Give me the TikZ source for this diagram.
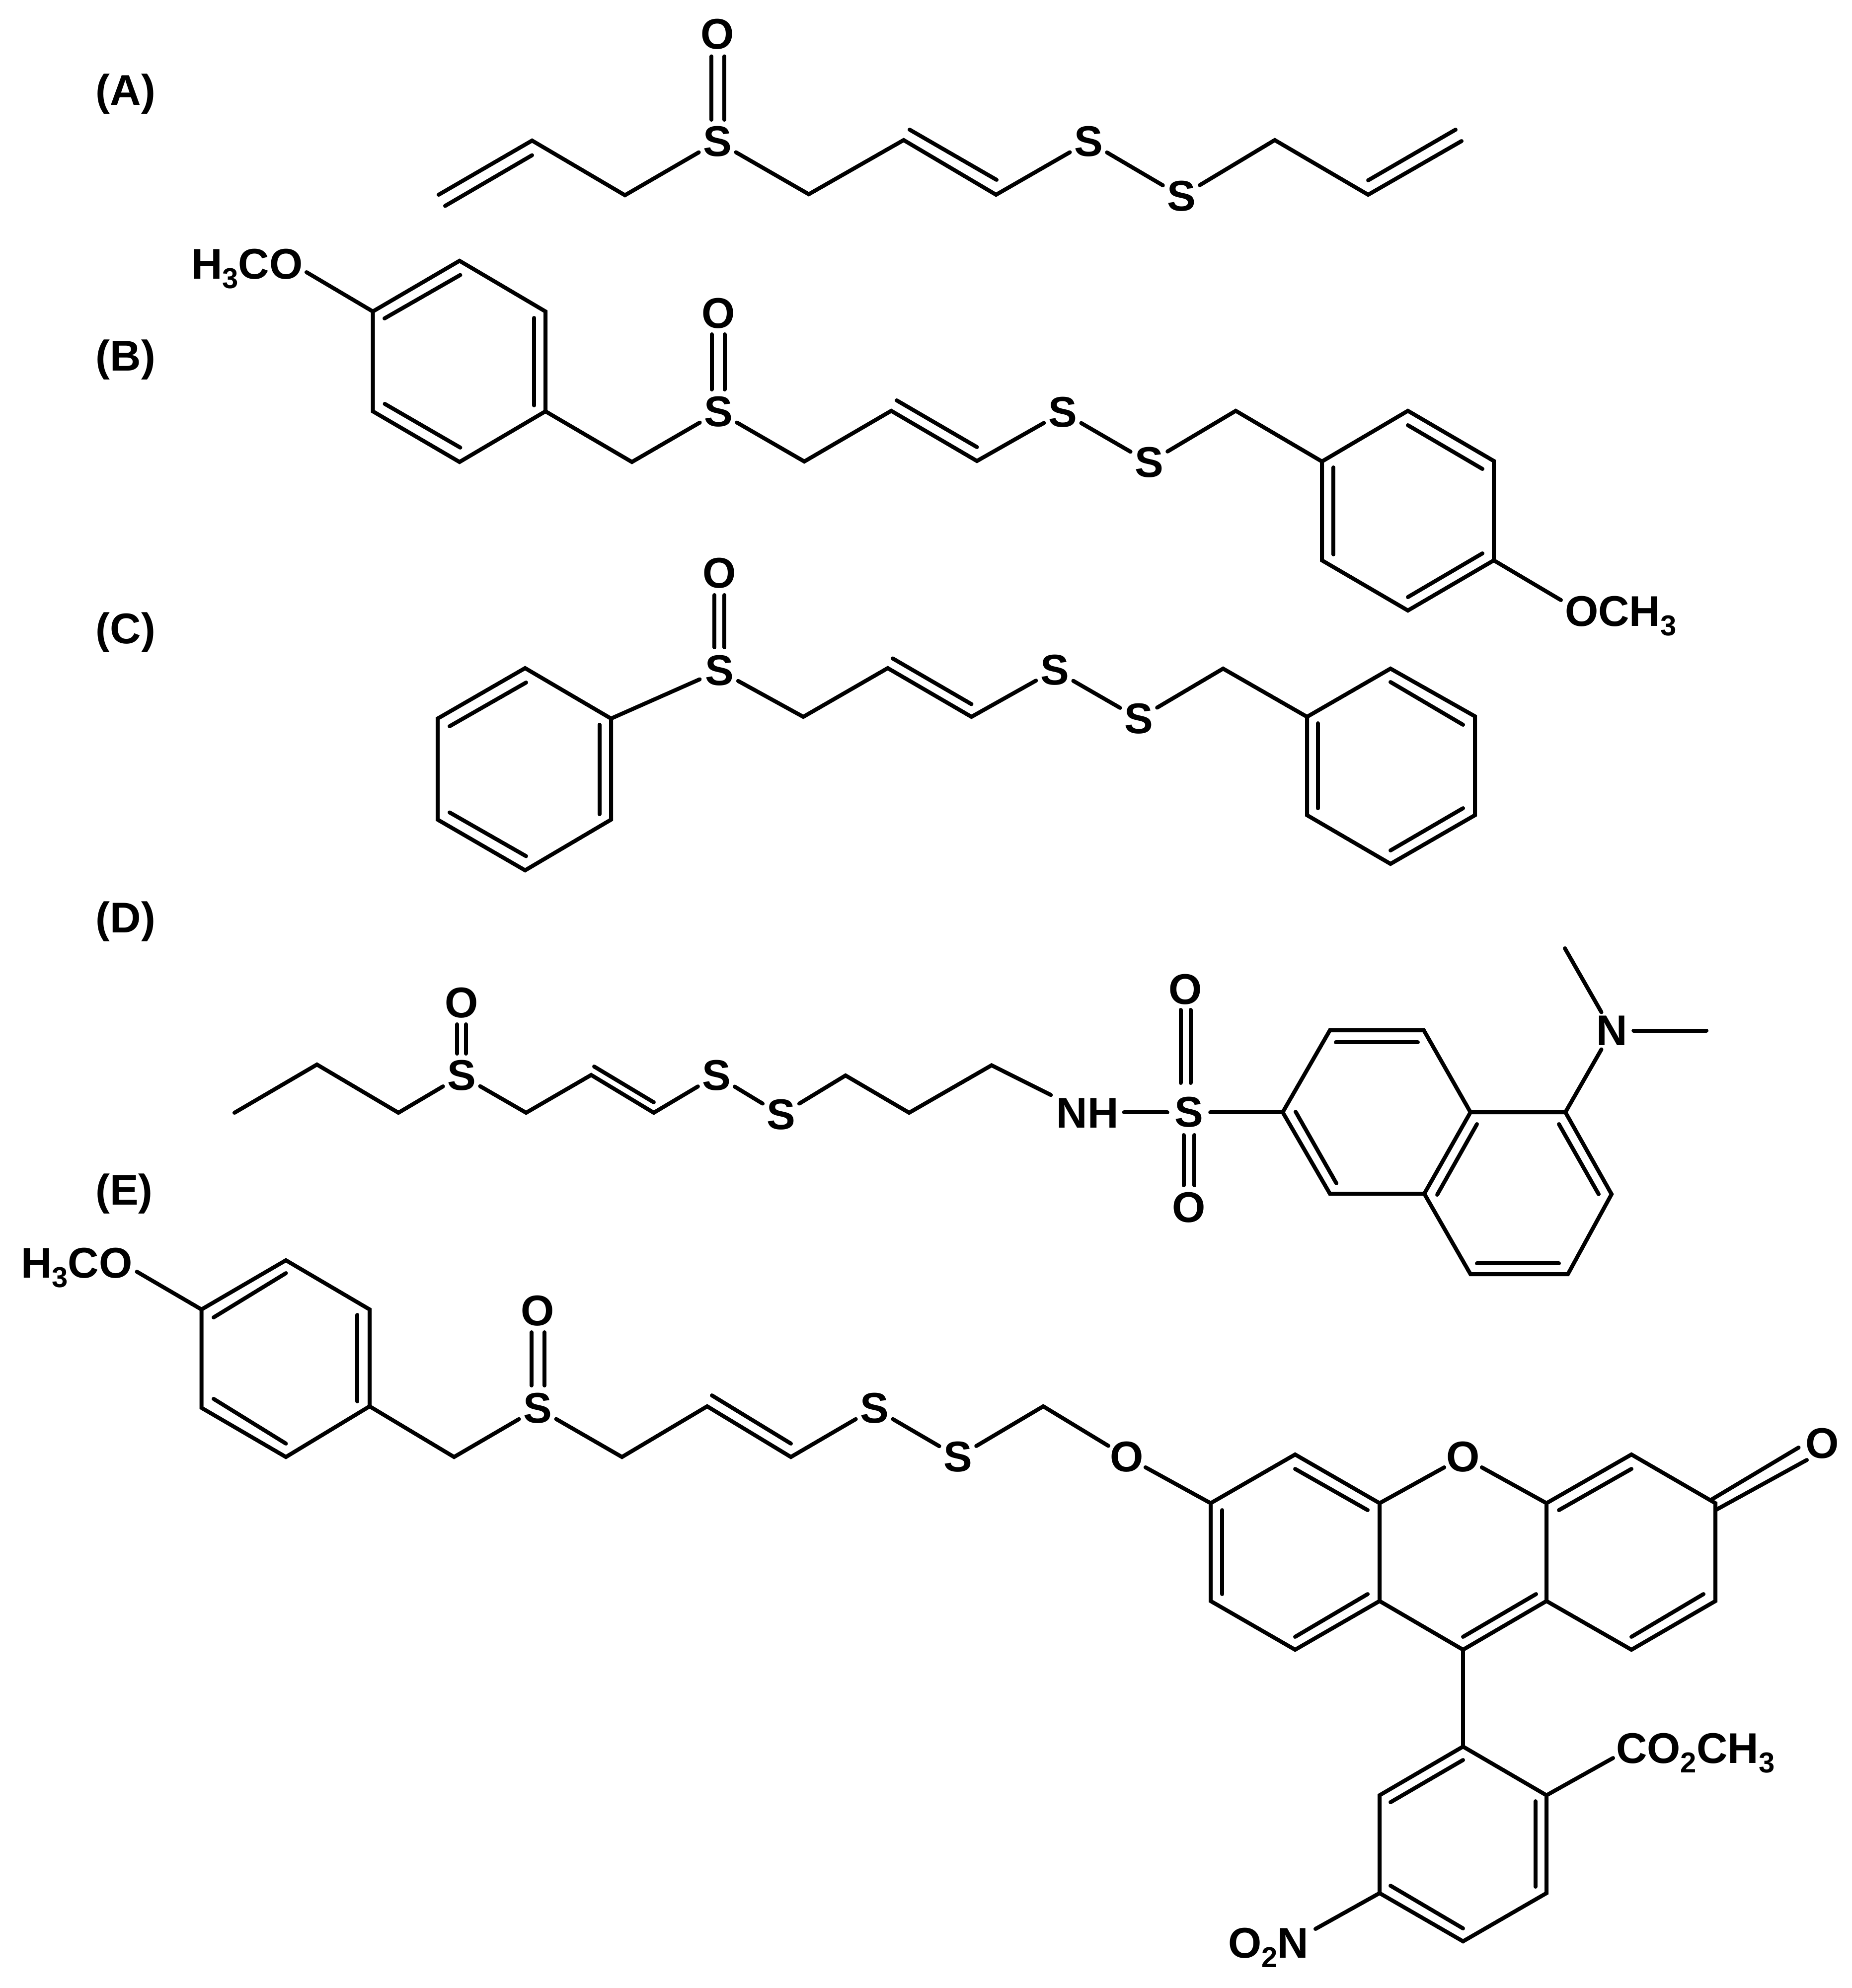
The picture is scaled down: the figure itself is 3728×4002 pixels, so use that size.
\documentclass[tikz,border=0pt]{standalone}
\usepackage{fontspec}
\setmainfont{Liberation Sans}
\newcommand{\sbs}[1]{\raisebox{-19pt}{\fontsize{58}{58}\selectfont #1}}
\tikzset{
  bond/.style={line width=8pt,line cap=round,line join=miter,black},
  atom/.style={circle,inner sep=-2pt,minimum size=86pt,font=\fontsize{86.5}{90}\selectfont\bfseries},
  grp/.style={inner sep=0pt,font=\fontsize{86.5}{90}\selectfont\bfseries},
  tag/.style={inner sep=0pt,font=\fontsize{86.5}{90}\selectfont\bfseries}
}
\newcommand{\il}[3]{\coordinate (#1s) at (#2); \coordinate (#1e) at (#3); \draw[bond] (#1s) -- (#1e);}
\begin{document}
\begin{tikzpicture}[x=1pt,y=-1pt]
\fill[white] (0,0) rectangle (3728,4002);
\useasboundingbox (0,0) rectangle (3728,4002);
% tags
\node[tag] (tA) at (253,189) {(A)};
\node[tag] (tB) at (253,724) {(B)};
\node[tag] (tC) at (253,1273) {(C)};
\node[tag] (tD) at (253,1855) {(D)};
\node[tag] (tE) at (250,2403) {(E)};
% ---- A
\node[atom] (aO) at (1444,69) {O};
\node[atom] (aS1) at (1444,285) {S};
\node[atom] (aS2) at (2191,285) {S};
\node[atom] (aS3) at (2378,395) {S};
\coordinate (a1) at (883,392);
\coordinate (a2) at (1071,283);
\coordinate (a3) at (1258,393);
\coordinate (a4) at (1628,391);
\coordinate (a5) at (1819,282);
\coordinate (a6) at (2005,392);
\coordinate (a7) at (2566,282);
\coordinate (a8) at (2754,392);
\coordinate (a9) at (2942,284);
\draw[bond] (a1) -- (a2) -- (a3) -- (aS1);
\draw[bond] (aS1) -- (a4) -- (a5) -- (a6) -- (aS2);
\draw[bond] (aS2) -- (aS3);
\draw[bond] (aS3) -- (a7) -- (a8) -- (a9);
\il{ai1}{1071,312.5}{896,414.5}
\il{ai2}{1831,261}{2006,362}
\il{ai3}{2754,363}{2930,261}
\il{ad1}{1432,113.5}{1432,241}
\il{ad2}{1458,113.5}{1458,241}
% ---- B
\node[grp,anchor=base west] (bG1) at (385,561) {H\sbs{3}CO};
\coordinate (bG1x) at (617,548);
\node[atom] (bO) at (1446,631) {O};
\node[atom] (bS1) at (1446,829) {S};
\node[atom] (bS2) at (2139,830) {S};
\node[atom] (bS3) at (2313,931) {S};
\coordinate (b1) at (750.5,627);
\coordinate (b2) at (925,525);
\coordinate (b3) at (1098,627);
\coordinate (b4) at (1098,828);
\coordinate (b5) at (925,930);
\coordinate (b6) at (750.5,828);
\coordinate (b7) at (1272,930);
\coordinate (b8) at (1619,929);
\coordinate (b9) at (1794,827);
\coordinate (b10) at (1966.5,928);
\coordinate (b11) at (2487.5,827);
\coordinate (b12) at (2661,929);
\coordinate (b13) at (2834,827);
\coordinate (b14) at (3007,928);
\coordinate (b15) at (3007,1128);
\coordinate (b16) at (2834,1229);
\coordinate (b17) at (2661,1128);
\coordinate (bG2x) at (3142,1208);
\node[grp,anchor=base west] (bG2) at (3150,1260) {OCH\sbs{3}};
\draw[bond] (bG1x) -- (b1);
\draw[bond] (b1) -- (b2) -- (b3) -- (b4) -- (b5) -- (b6) -- cycle;
\draw[bond] (b4) -- (b7) -- (bS1);
\draw[bond] (bS1) -- (b8) -- (b9) -- (b10) -- (bS2);
\draw[bond] (bS2) -- (bS3);
\draw[bond] (bS3) -- (b11) -- (b12);
\draw[bond] (b12) -- (b13) -- (b14) -- (b15) -- (b16) -- (b17) -- cycle;
\draw[bond] (b15) -- (bG2x);
\il{bi1}{774,641}{926.5,553.6}
\il{bi2}{1075,640}{1075,816}
\il{bi3}{774.5,813}{926.5,901}
\il{bi4}{1805,806}{1966.5,900}
\il{bi5}{2684,941}{2684,1116}
\il{bi6}{2834,856}{2984,944}
\il{bi7}{2984,1114}{2834,1202}
\il{bd1}{1433,673}{1433,784}
\il{bd2}{1459,673}{1459,784}
% ---- C
\node[atom] (cO) at (1448,1154) {O};
\node[atom] (cS1) at (1448,1350) {S};
\node[atom] (cS2) at (2123,1349) {S};
\node[atom] (cS3) at (2292,1446.5) {S};
\coordinate (c1) at (1230,1446.5);
\coordinate (c2) at (1057,1345);
\coordinate (c3) at (881,1446.5);
\coordinate (c4) at (881,1650);
\coordinate (c5) at (1057,1752);
\coordinate (c6) at (1230,1650);
\coordinate (c7) at (1617,1443);
\coordinate (c8) at (1787,1345);
\coordinate (c9) at (1955.5,1443);
\coordinate (c10) at (2462,1346);
\coordinate (c11) at (2631,1443);
\coordinate (c12) at (2799,1346);
\coordinate (c13) at (2969,1442);
\coordinate (c14) at (2969,1641);
\coordinate (c15) at (2799,1739);
\coordinate (c16) at (2631,1641);
\draw[bond] (c1) -- (c2) -- (c3) -- (c4) -- (c5) -- (c6) -- cycle;
\draw[bond] (c1) -- (cS1);
\draw[bond] (cS1) -- (c7) -- (c8) -- (c9) -- (cS2);
\draw[bond] (cS2) -- (cS3);
\draw[bond] (cS3) -- (c10) -- (c11);
\draw[bond] (c11) -- (c12) -- (c13) -- (c14) -- (c15) -- (c16) -- cycle;
\il{ci1}{905,1462}{1059,1374}
\il{ci2}{1207,1459}{1207,1639}
\il{ci3}{905,1635.5}{1059,1723.5}
\il{ci4}{1797,1325.5}{1955.5,1417.5}
\il{ci5}{2653,1456}{2653,1627}
\il{ci6}{2799,1373}{2945,1459}
\il{ci7}{2945,1627}{2799,1712}
\il{cd1}{1438,1198}{1438,1303}
\il{cd2}{1458,1198}{1458,1303}
% ---- D
\node[atom] (dO) at (929,2018.5) {O};
\node[atom] (dS1) at (929,2165) {S};
\node[atom] (dS2) at (1442,2165) {S};
\node[atom] (dS3) at (1572,2244) {S};
\node[grp,inner sep=11pt] (dNH) at (2189,2241) {NH};
\node[atom] (dS4) at (2393,2239) {S};
\node[atom] (dO2) at (2386,1992) {O};
\node[atom] (dO3) at (2393,2431) {O};
\node[atom] (dN) at (3245,2075) {N};
\coordinate (d1) at (472,2240);
\coordinate (d2) at (638,2143);
\coordinate (d3) at (802,2240);
\coordinate (d4) at (1059,2240);
\coordinate (d5) at (1190,2164);
\coordinate (d6) at (1316,2240);
\coordinate (d7) at (1702,2165);
\coordinate (d8) at (1830,2240);
\coordinate (d9) at (1996,2144.5);
\coordinate (n1) at (2582,2239);
\coordinate (n2) at (2677,2074);
\coordinate (n3) at (2866,2074);
\coordinate (n4) at (2960,2239);
\coordinate (n5) at (2867,2403);
\coordinate (n6) at (2677,2403);
\coordinate (n7) at (3151,2239);
\coordinate (n8) at (3244,2404);
\coordinate (n9) at (3156,2565);
\coordinate (n10) at (2960,2565);
\coordinate (m1) at (3150,1909);
\coordinate (m2) at (3435,2075);
\draw[bond] (d1) -- (d2) -- (d3) -- (dS1);
\draw[bond] (dS1) -- (d4) -- (d5) -- (d6) -- (dS2);
\draw[bond] (dS2) -- (dS3);
\draw[bond] (dS3) -- (d7) -- (d8) -- (d9) -- (dNH);
\draw[bond] (dNH.east |- dS4) -- (dS4);
\draw[bond] (dS4) -- (n1);
\draw[bond] (n1) -- (n2) -- (n3) -- (n4) -- (n5) -- (n6) -- cycle;
\draw[bond] (n4) -- (n7) -- (n8) -- (n9) -- (n10) -- (n5);
\draw[bond] (n7) -- (dN);
\draw[bond] (dN) -- (m1);
\draw[bond] (dN) -- (m2);
\il{di1}{1196,2147}{1316,2219}
\il{dd1}{920,2062}{920,2121}
\il{dd2}{938,2062}{938,2121}
\il{dd3}{2377,2033}{2377,2180}
\il{dd4}{2397,2033}{2397,2180}
\il{dd5}{2383,2285}{2383,2386}
\il{dd6}{2404,2285}{2404,2386}
\il{ni1}{2689,2098}{2854,2098}
\il{ni2}{2608,2238}{2690,2382}
\il{ni3}{2973,2263}{2893,2405}
\il{ni4}{3138,2263}{3218,2404}
\il{ni5}{2973,2543}{3138,2543}
% ---- E
\node[grp,anchor=base west] (eG1) at (42,2572) {H\sbs{3}CO};
\coordinate (eG1x) at (275.5,2560);
\node[atom] (eO) at (1082,2639) {O};
\node[atom] (eS1) at (1082,2835) {S};
\node[atom] (eS2) at (1760,2835) {S};
\node[atom] (eS3) at (1928,2933) {S};
\node[atom] (eO2) at (2268,2933) {O};
\node[atom] (eO3) at (2945,2933) {O};
\node[atom] (eO4) at (3668,2906) {O};
\coordinate (e1) at (405.6,2636);
\coordinate (e2) at (575.5,2537);
\coordinate (e3) at (744,2636);
\coordinate (e4) at (744,2831);
\coordinate (e5) at (575.5,2933);
\coordinate (e6) at (405.6,2834);
\coordinate (e7) at (914,2933);
\coordinate (e8) at (1252,2933);
\coordinate (e9) at (1423.5,2831);
\coordinate (e10) at (1592,2933);
\coordinate (e11) at (2100,2831);
\coordinate (f1) at (2437,3026);
\coordinate (f2) at (2607,2928);
\coordinate (f3) at (2777,3026);
\coordinate (f4) at (3113,3026);
\coordinate (f5) at (3284,2928);
\coordinate (f6) at (3453,3026);
\coordinate (f7) at (3453,3223);
\coordinate (f8) at (3284,3321);
\coordinate (f9) at (3113,3223);
\coordinate (f10) at (2945,3321);
\coordinate (f11) at (2777,3223);
\coordinate (f12) at (2607,3321);
\coordinate (f13) at (2437,3223);
\coordinate (g1) at (2945,3516);
\coordinate (g2) at (3113,3614);
\coordinate (g3) at (3113,3811);
\coordinate (g4) at (2945,3908);
\coordinate (g5) at (2777,3811);
\coordinate (g6) at (2777,3614);
\node[grp,anchor=base west] (eG2) at (3253,3549) {CO\sbs{2}CH\sbs{3}};
\coordinate (eG2x) at (3247,3539);
\node[grp,anchor=base west] (eG3) at (2472,3941) {O\sbs{2}N};
\coordinate (eG3x) at (2648,3883);
\draw[bond] (eG1x) -- (e1);
\draw[bond] (e1) -- (e2) -- (e3) -- (e4) -- (e5) -- (e6) -- cycle;
\draw[bond] (e4) -- (e7) -- (eS1);
\draw[bond] (eS1) -- (e8) -- (e9) -- (e10) -- (eS2);
\draw[bond] (eS2) -- (eS3);
\draw[bond] (eS3) -- (e11) -- (eO2);
\draw[bond] (eO2) -- (f1);
\draw[bond] (f1) -- (f2) -- (f3) -- (f11) -- (f12) -- (f13) -- cycle;
\draw[bond] (f3) -- (eO3);
\draw[bond] (eO3) -- (f4);
\draw[bond] (f4) -- (f5) -- (f6) -- (f7) -- (f8) -- (f9) -- cycle;
\draw[bond] (f9) -- (f10) -- (f11);
\draw[bond] (f10) -- (g1);
\draw[bond] (g1) -- (g2) -- (g3) -- (g4) -- (g5) -- (g6) -- cycle;
\draw[bond] (g2) -- (eG2x);
\draw[bond] (g5) -- (eG3x);
\il{ei1}{430,2652}{575.5,2563}
\il{ei2}{719,2647}{719,2821}
\il{ei3}{430,2816}{575.5,2906}
\il{ei4}{1433,2809}{1592,2906}
\il{ed1}{1070,2682}{1070,2789}
\il{ed2}{1096,2682}{1096,2789}
\il{fi1}{2607,2957}{2753,3040}
\il{fi2}{3138,3040}{3284,2957}
\il{fi3}{2460,3040}{2460,3209}
\il{fi4}{2607,3295}{2753,3209}
\il{fi5}{2945,3295}{3092,3209}
\il{fi6}{3284,3295}{3429,3209}
\il{fc1}{3443,3020}{3620.5,2914}
\il{fc2}{3455,3039}{3637,2939}
\il{gi1}{2945,3543}{2799,3628}
\il{gi2}{3091,3626}{3091,3798}
\il{gi3}{2799,3796}{2945,3882}
\end{tikzpicture}
\end{document}
